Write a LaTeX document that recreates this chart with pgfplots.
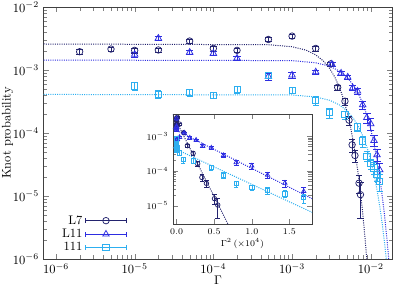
\documentclass[border=0pt]{standalone}
\usepackage{pgfplots}
\usepackage{pgfplotstable}
\pgfplotsset{compat=1.18}
\definecolor{cA}{RGB}{35,35,110}
\definecolor{cB}{RGB}{45,45,225}
\definecolor{cC}{RGB}{45,175,240}

\pgfplotstableread{
g p e
2e-6 1.95e-3 1.5e-4
5e-6 2.15e-3 1.5e-4
1e-5 2.05e-3 2e-4
2e-5 2.08e-3 1.5e-4
5e-5 2.88e-3 2e-4
1e-4 2.2e-3 2e-4
2e-4 2.05e-3 1.5e-4
5e-4 3.05e-3 2e-4
1e-3 3.45e-3 2.5e-4
2e-3 2.2e-3 2e-4
3.1e-3 1.25e-3 1e-4
3.8e-3 5.3e-4 5e-5
4.7e-3 3.2e-4 4e-5
5.3e-3 1.6e-4 2.5e-5
5.8e-3 6.5e-5 1.5e-5
6.3e-3 4.4e-5 1e-5
7.1e-3 1.6e-5 5e-6
7.4e-3 1.05e-5 6e-6
}\dataA

\pgfplotstableread{
g p e
1e-5 1.77e-3 1.5e-4
2e-5 3.19e-3 2.5e-4
5e-5 1.91e-3 1.5e-4
1e-4 1.84e-3 1.5e-4
2e-4 1.54e-3 1.2e-4
5e-4 7.9e-4 1e-4
1e-3 8.3e-4 8e-5
2e-3 9.3e-4 6e-5
3.2e-3 1.24e-3 8e-5
4.2e-3 8.9e-4 7e-5
5.1e-3 7.7e-4 6e-5
5.9e-3 5.2e-4 5e-5
6.8e-3 4.6e-4 5e-5
7.9e-3 2.8e-4 4e-5
8.9e-3 1.75e-4 3e-5
1e-2 1.4e-4 3e-5
1.1e-2 7.6e-5 1.5e-5
1.2e-2 4.5e-5 1e-5
1.3e-2 2.6e-5 7e-6
}\dataB

\pgfplotstableread{
g p e
1e-5 5.6e-4 8e-5
2e-5 4.1e-4 6e-5
5e-5 4.4e-4 6e-5
1e-4 4.0e-4 5e-5
2e-4 4.9e-4 6e-5
5e-4 8.3e-4 8e-5
1e-3 4.8e-4 6e-5
2e-3 3.3e-4 5e-5
3e-3 2.1e-4 4e-5
4.7e-3 1.95e-4 3e-5
6.8e-3 1.25e-4 2e-5
7.9e-3 7.5e-5 1.5e-5
8.9e-3 4.3e-5 8e-6
1e-2 3.3e-5 6e-6
1.1e-2 2.8e-5 6e-6
1.2e-2 2.2e-5 5e-6
1.3e-2 1.7e-5 5e-6
}\dataC

\begin{document}
\begin{tikzpicture}
\begin{axis}[
  at={(34.64pt,22.4pt)}, anchor=south west,
  scale only axis, width=279.5pt, height=201.6pt,
  xmode=log, ymode=log,
  xmin=6.9e-7, xmax=1.9e-2, ymin=1e-6, ymax=1e-2,
  xtick={1e-6,1e-5,1e-4,1e-3,1e-2},
  ytick={1e-6,1e-5,1e-4,1e-3,1e-2},
  xlabel={$\Gamma$}, ylabel={Knot probability},
  xlabel shift=-5pt, ylabel shift=-7pt,
  axis line style={black!75},
  legend style={at={(0.251,0.004)}, anchor=south east, draw=none, fill=none, row sep=-1.5pt},
  legend plot pos=right, legend cell align=right,
  legend image code/.code={
    \draw[solid] (0cm,0cm) -- (1.16cm,0cm);
    \draw[solid] (0cm,-2pt) -- (0cm,2pt);
    \draw[solid] (1.16cm,-2pt) -- (1.16cm,2pt);
    \draw[mark repeat=2,mark phase=2] plot coordinates {(0cm,0cm) (0.58cm,0cm) (1.16cm,0cm)};
  },
]
\addplot[cA, densely dotted, line width=0.8pt, forget plot] coordinates {
(5e-7,2.59e-3) (5e-4,2.52e-3) (1e-3,2.34e-3) (1.5e-3,2.07e-3) (2e-3,1.74e-3)
(2.5e-3,1.39e-3) (3e-3,1.06e-3) (3.5e-3,7.7e-4) (4e-3,5.3e-4) (4.5e-3,3.48e-4)
(5e-3,2.18e-4) (5.5e-3,1.29e-4) (6e-3,7.3e-5) (6.5e-3,3.94e-5) (7e-3,2.02e-5)
(7.5e-3,9.9e-6) (8e-3,4.6e-6) (8.5e-3,2.02e-6) (9e-3,8.5e-7) (9.5e-3,3.4e-7)};
\addplot[cB, densely dotted, line width=0.8pt, forget plot] coordinates {
(5e-7,1.44e-3) (1e-3,1.41e-3) (2e-3,1.30e-3) (3e-3,1.15e-3) (4e-3,9.6e-4)
(5e-3,7.66e-4) (6e-3,5.8e-4) (7e-3,4.17e-4) (8e-3,2.85e-4) (9e-3,1.85e-4)
(1e-2,1.15e-4) (1.1e-2,6.73e-5) (1.2e-2,3.76e-5) (1.3e-2,2.0e-5) (1.4e-2,1.0e-5)
(1.5e-2,4.8e-6) (1.6e-2,2.2e-6) (1.7e-2,9.5e-7) (1.8e-2,3.9e-7)};
\addplot[cC, densely dotted, line width=0.8pt, forget plot] coordinates {
(5e-7,4.1e-4) (1e-3,4.01e-4) (2e-3,3.73e-4) (3e-3,3.31e-4) (4e-3,2.79e-4)
(5e-3,2.25e-4) (6e-3,1.72e-4) (7e-3,1.26e-4) (8e-3,8.75e-5) (9e-3,5.8e-5)
(1e-2,3.66e-5) (1.1e-2,2.21e-5) (1.2e-2,1.26e-5) (1.3e-2,6.91e-6) (1.4e-2,3.6e-6)
(1.5e-2,1.78e-6) (1.6e-2,8.4e-7)};
\addplot[cA, only marks, mark=o, mark size=2.6pt, line width=0.6pt,
  error bars/.cd, y dir=both, y explicit] table[x=g,y=p,y error=e]{\dataA};
\addlegendentry{L7}
\addplot[cB, only marks, mark=triangle, mark size=3pt, line width=0.6pt,
  error bars/.cd, y dir=both, y explicit] table[x=g,y=p,y error=e]{\dataB};
\addlegendentry{L11}
\addplot[cC, only marks, mark=square, mark size=2.5pt, line width=0.6pt,
  error bars/.cd, y dir=both, y explicit] table[x=g,y=p,y error=e]{\dataC};
\addlegendentry{111}
\end{axis}

\begin{axis}[
  at={(138.2pt,50.4pt)}, anchor=south west,
  scale only axis, width=111.4pt, height=88pt,
  ymode=log,
  xmin=-0.05, xmax=1.8, ymin=3e-6, ymax=4.3e-3,
  xtick={0,0.5,1,1.5}, ytick={1e-5,1e-4,1e-3},
  xticklabel style={/pgf/number format/.cd, fixed, fixed zerofill, precision=1},
  tick label style={font=\scriptsize},
  label style={font=\scriptsize},
  xlabel={$\Gamma^2\,(\times10^4)$},
  xlabel style={yshift=3pt},
  axis line style={black!75},
  axis background/.style={fill=white},
]
\addplot[cA, densely dotted, line width=0.8pt] coordinates {(-0.05,4.25e-3) (0.8,9.4e-7)};
\addplot[cB, densely dotted, line width=0.8pt] coordinates {(-0.05,1.64e-3) (1.8,1.6e-5)};
\addplot[cC, densely dotted, line width=0.8pt] coordinates {(-0.05,4.64e-4) (1.8,6.5e-6)};
\addplot[cA, only marks, mark=o, mark size=1.8pt, line width=0.6pt,
  error bars/.cd, y dir=both, y explicit] table[x expr={(\thisrow{g}*100)^2},y=p,y error=e]{\dataA};
\addplot[cB, only marks, mark=triangle, mark size=2pt, line width=0.6pt,
  error bars/.cd, y dir=both, y explicit] table[x expr={(\thisrow{g}*100)^2},y=p,y error=e]{\dataB};
\addplot[cC, only marks, mark=square, mark size=1.7pt, line width=0.6pt,
  error bars/.cd, y dir=both, y explicit] table[x expr={(\thisrow{g}*100)^2},y=p,y error=e]{\dataC};
\end{axis}
\pgfresetboundingbox
\path[use as bounding box] (0,0) rectangle (315.2pt,229.6pt);
\end{tikzpicture}
\end{document}
